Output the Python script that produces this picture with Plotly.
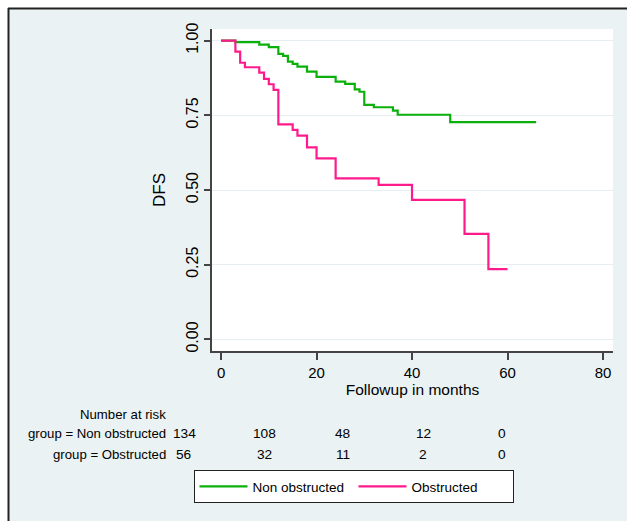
import plotly.graph_objects as go

# ---------------- data ----------------
nonobs_time = [0, 3, 8, 10, 12, 13, 14, 15, 16, 18, 20, 24, 26, 28, 29, 30, 32, 36, 37, 48, 66]
nonobs_surv = [1.0, 0.995, 0.987, 0.978, 0.956, 0.949, 0.930, 0.922, 0.913, 0.896, 0.879,
               0.863, 0.855, 0.837, 0.829, 0.785, 0.777, 0.766, 0.752, 0.727, 0.727]
obs_time = [0, 3, 4, 5, 8, 9, 10, 11, 12, 15, 16, 18, 20, 24, 33, 40, 51, 56, 60]
obs_surv = [1.0, 0.963, 0.926, 0.911, 0.893, 0.872, 0.854, 0.835, 0.720, 0.701, 0.682,
            0.643, 0.606, 0.539, 0.517, 0.467, 0.353, 0.235, 0.235]
risk_labels = ["group = Non obstructed", "group = Obstructed"]
risk_nonobs = [134, 108, 48, 12, 0]
risk_obs = [56, 32, 11, 2, 0]
x_ticks = [0, 20, 40, 60, 80]
y_ticks = [0, 0.25, 0.5, 0.75, 1.0]
y_ticklabels = ["0.00", "0.25", "0.50", "0.75", "1.00"]

# ---------------- layout constants ----------------
W, H = 627, 521
ML, MR, MT, MB = 212, 14, 29, 170
PW, PH = W - ML - MR, H - MT - MB
BG = "#EAF2F3"
GREEN = "#0CB00C"
PINK = "#FF1A8C"
FONT = "Liberation Sans, Arial, sans-serif"
TS = 13.2  # table / legend text size
risk_col_px = [184, 264, 342.5, 423, 502]
risk_row_px = [433, 454]


def px_x(px):
    return (px - ML) / PW


def px_y(py):
    return (H - MB - py) / PH


fig = go.Figure()
fig.add_trace(go.Scatter(x=nonobs_time, y=nonobs_surv, mode="lines", line_shape="hv",
                         name="Non obstructed", line=dict(color=GREEN, width=2.2)))
fig.add_trace(go.Scatter(x=obs_time, y=obs_surv, mode="lines", line_shape="hv",
                         name="Obstructed", line=dict(color=PINK, width=2.2)))

annotations = []
annotations.append(dict(text="Number at risk", xref="paper", yref="paper",
                        x=px_x(168), y=px_y(414), xanchor="right", yanchor="middle",
                        showarrow=False, font=dict(family=FONT, size=TS, color="black")))
for lab, vals, rpx in zip(risk_labels, [risk_nonobs, risk_obs], risk_row_px):
    annotations.append(dict(text=lab, xref="paper", yref="paper", x=px_x(168), y=px_y(rpx),
                            xanchor="right", yanchor="middle", showarrow=False,
                            font=dict(family=FONT, size=TS, color="black")))
    for v, cpx in zip(vals, risk_col_px):
        annotations.append(dict(text=str(v), xref="paper", yref="paper", x=px_x(cpx), y=px_y(rpx),
                                xanchor="center", yanchor="middle", showarrow=False,
                                font=dict(family=FONT, size=TS + 0.5, color="black")))

shapes = [
    dict(type="rect", xref="paper", yref="paper", x0=px_x(0), x1=px_x(8), y0=px_y(H), y1=px_y(0),
         fillcolor="white", line=dict(width=0), layer="below"),
    dict(type="rect", xref="paper", yref="paper", x0=px_x(0), x1=px_x(W), y0=px_y(8), y1=px_y(0),
         fillcolor="white", line=dict(width=0), layer="below"),
    dict(type="line", xref="paper", yref="paper", x0=px_x(8.5), x1=px_x(8.5), y0=px_y(H), y1=px_y(8),
         line=dict(color="#222", width=2)),
    dict(type="line", xref="paper", yref="paper", x0=px_x(8), x1=px_x(W), y0=px_y(8.5), y1=px_y(8.5),
         line=dict(color="#222", width=2)),
]

fig.update_layout(
    width=W, height=H,
    margin=dict(l=ML, r=MR, t=MT, b=MB, pad=0),
    paper_bgcolor=BG, plot_bgcolor="white",
    font=dict(family=FONT, size=16, color="black"),
    showlegend=True,
    legend=dict(orientation="h", x=px_x(193.5), y=px_y(470), xanchor="left", yanchor="top",
                bgcolor="white", bordercolor="#222", borderwidth=1,
                font=dict(family=FONT, size=TS + 0.3, color="black"),
                entrywidth=96, entrywidthmode="pixels", itemwidth=48, tracegroupgap=0),
    annotations=annotations,
    shapes=shapes,
    xaxis=dict(range=[-1.9, 82.1], tickvals=x_ticks, showgrid=False, zeroline=False,
               showline=True, linecolor="#444", linewidth=1.5, ticks="outside", ticklen=7,
               tickcolor="#444", tickwidth=1.5,
               tickfont=dict(family=FONT, size=15, color="black"),
               title=dict(text="Followup in months", standoff=4,
                          font=dict(family=FONT, size=15.5, color="black"))),
    yaxis=dict(range=[-0.039, 1.039], tickvals=y_ticks, ticktext=y_ticklabels, tickangle=-90,
               showgrid=True, gridcolor="#E6EEF2", gridwidth=1, zeroline=False,
               showline=True, linecolor="#444", linewidth=1.5, ticks="outside", ticklen=6,
               tickcolor="#444", tickwidth=1.5,
               tickfont=dict(family=FONT, size=16, color="black"),
               title=dict(text="DFS", standoff=14, font=dict(family=FONT, size=17, color="black"))),
)

fig.write_html("out.html")
